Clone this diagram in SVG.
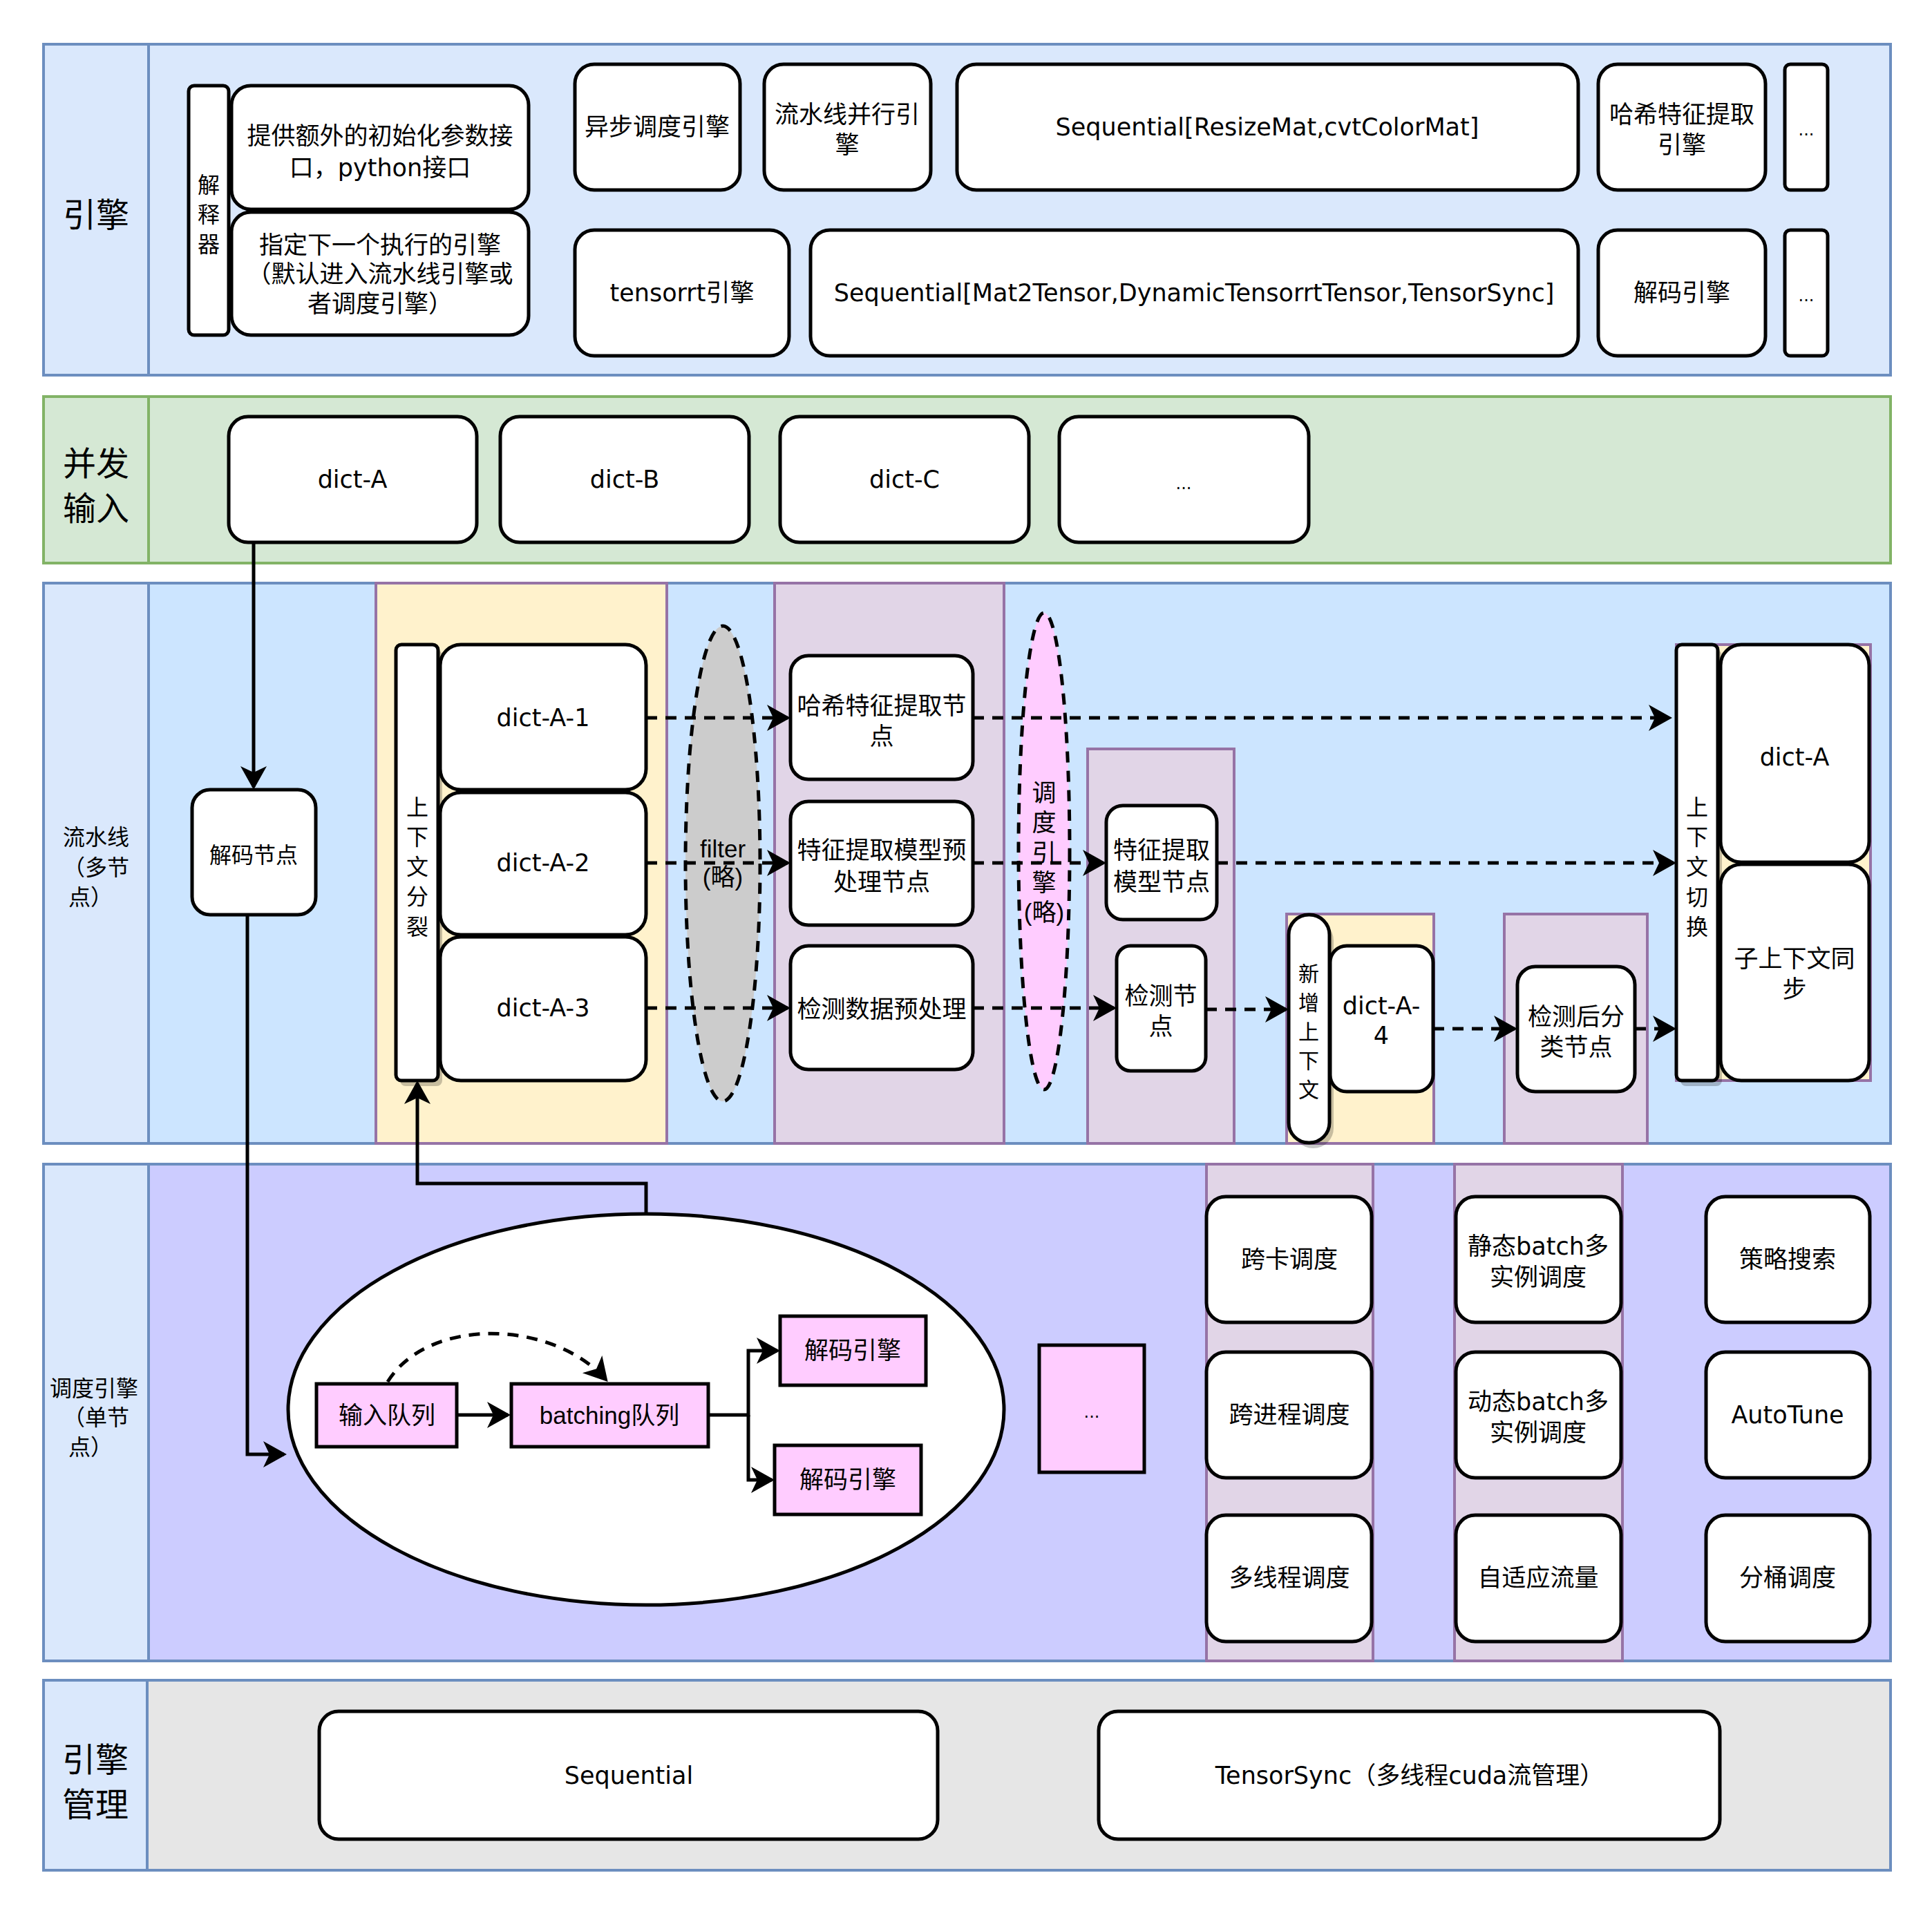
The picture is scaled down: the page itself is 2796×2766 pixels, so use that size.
<svg xmlns="http://www.w3.org/2000/svg" width="2796" height="2766" viewBox="0 0 2796 2766">
<defs>
<style>
text, tspan { dominant-baseline: central; }
.t { font-family: "DejaVu Sans", "Noto Sans CJK SC", sans-serif; font-size: 35px; text-anchor: middle; fill: #000; }
.h { font-family: "Liberation Sans", "Noto Sans CJK SC", sans-serif; font-size: 35px; text-anchor: middle; fill: #000; }
.lbl { font-family: "Noto Sans CJK SC", sans-serif; font-size: 48px; text-anchor: middle; fill: #000; }
.lbs { font-family: "Noto Sans CJK SC", sans-serif; font-size: 32px; text-anchor: middle; fill: #000; }
.sm { font-family: "DejaVu Sans", sans-serif; font-size: 24px; text-anchor: middle; fill: #000; }
.laneB { fill: #dae8fc; stroke: #6c8ebf; stroke-width: 4; }
.laneP { fill: #cce5ff; stroke: #6c8ebf; stroke-width: 4; }
.laneG { fill: #d5e8d4; stroke: #82b366; stroke-width: 4; }
.laneS { fill: #ccccff; stroke: #6c8ebf; stroke-width: 4; }
.laneM { fill: #e6e6e6; stroke: #6c8ebf; stroke-width: 4; }
.cy { fill: #fff2cc; stroke: #9673a6; stroke-width: 4; }
.cp { fill: #e1d5e7; stroke: #9673a6; stroke-width: 4; }
.n { fill: #fff; stroke: #000; stroke-width: 5; }
.pk { fill: #ffccff; stroke: #000; stroke-width: 5; }
.sh { fill: #000; opacity: 0.22; }
.ln { fill: none; stroke: #000; stroke-width: 5; }
.ds { fill: none; stroke: #000; stroke-width: 5; stroke-dasharray: 16 12; }
</style>
<marker id="arr" markerUnits="userSpaceOnUse" markerWidth="36" markerHeight="40" viewBox="0 0 36 40" refX="30" refY="19" orient="auto">
<path d="M0,0 L34,19 L0,38 L9,19 Z" fill="#000"/>
</marker>
</defs>

<g id="lanes">
<rect class="laneB" x="215" y="64" width="2521" height="479"/>
<rect class="laneB" x="63" y="64" width="152" height="479"/>
<text class="lbl" x="139" y="307">引擎</text>
<rect class="laneG" x="215" y="574" width="2521" height="241"/>
<rect class="laneG" x="63" y="574" width="152" height="241"/>
<text class="lbl"><tspan x="139" y="667">并发</tspan><tspan x="139" y="732">输入</tspan></text>
<rect class="laneP" x="215" y="844" width="2521" height="811"/>
<rect class="laneB" x="63" y="844" width="152" height="811"/>
<text class="lbs"><tspan x="139" y="1209">流水线</tspan><tspan x="139" y="1253">（多节</tspan><tspan x="131" y="1296">点）</tspan></text>
<rect class="laneS" x="215" y="1685" width="2521" height="719"/>
<rect class="laneB" x="63" y="1685" width="152" height="719"/>
<text class="lbs"><tspan x="136" y="2007">调度引擎</tspan><tspan x="139" y="2049">（单节</tspan><tspan x="131" y="2092">点）</tspan></text>
<rect class="laneM" x="213" y="2432" width="2523" height="275"/>
<rect class="laneB" x="63" y="2432" width="150" height="275"/>
<text class="lbl"><tspan x="138" y="2543">引擎</tspan><tspan x="138" y="2608">管理</tspan></text>
</g>

<g id="containers">
<rect class="cy" x="544" y="844" width="421" height="811"/>
<rect class="cp" x="1121" y="844" width="332" height="811"/>
<rect class="cp" x="1574" y="1084" width="212" height="571"/>
<rect class="cy" x="1862" y="1323" width="213" height="332"/>
<rect class="cp" x="2177" y="1323" width="207" height="332"/>
<rect class="cy" x="2426" y="933" width="281" height="631"/>
<rect class="cp" x="1746" y="1685" width="241" height="719"/>
<rect class="cp" x="2105" y="1685" width="243" height="719"/>
</g>

<!-- engine lane -->
<g id="interp"><rect class="n" x="273" y="124" width="58" height="361" rx="8"/>
<text class="lbs"><tspan x="302" y="265">解</tspan><tspan x="302" y="308">释</tspan><tspan x="302" y="351">器</tspan></text></g>
<g id="init-param"><rect class="n" x="335" y="124" width="430" height="179" rx="28"/>
<text class="t"><tspan x="550" y="197">提供额外的初始化参数接</tspan><tspan x="550" y="243">口，python接口</tspan></text></g>
<g id="next-engine"><rect class="n" x="335" y="307" width="430" height="178" rx="28"/>
<text class="t"><tspan x="550" y="355">指定下一个执行的引擎</tspan><tspan x="550" y="397">（默认进入流水线引擎或</tspan><tspan x="550" y="440">者调度引擎）</tspan></text></g>
<g id="async-engine"><rect class="n" x="832" y="93" width="239" height="182" rx="28"/>
<text class="t" x="951" y="184">异步调度引擎</text></g>
<g id="pipe-engine"><rect class="n" x="1106" y="93" width="241" height="182" rx="28"/>
<text class="t"><tspan x="1226" y="166">流水线并行引</tspan><tspan x="1226" y="210">擎</tspan></text></g>
<g id="seq-resize"><rect class="n" x="1385" y="93" width="899" height="182" rx="28"/>
<text class="t" x="1834" y="184">Sequential[ResizeMat,cvtColorMat]</text></g>
<g id="hash-engine"><rect class="n" x="2313" y="93" width="242" height="182" rx="28"/>
<text class="t"><tspan x="2434" y="166">哈希特征提取</tspan><tspan x="2434" y="210">引擎</tspan></text></g>
<g id="more-1"><rect class="n" x="2583" y="93" width="62" height="182" rx="8"/>
<text class="sm" x="2614" y="188">...</text></g>
<g id="tensorrt-engine"><rect class="n" x="832" y="333" width="310" height="182" rx="28"/>
<text class="t" x="987" y="424">tensorrt引擎</text></g>
<g id="seq-mat"><rect class="n" x="1173" y="333" width="1111" height="182" rx="28"/>
<text class="t" x="1728" y="424">Sequential[Mat2Tensor,DynamicTensorrtTensor,TensorSync]</text></g>
<g id="decode-engine"><rect class="n" x="2313" y="333" width="242" height="182" rx="28"/>
<text class="t" x="2434" y="424">解码引擎</text></g>
<g id="more-2"><rect class="n" x="2583" y="333" width="62" height="182" rx="8"/>
<text class="sm" x="2614" y="428">...</text></g>

<!-- concurrent input -->
<g id="dict-a"><rect class="n" x="331" y="603" width="359" height="182" rx="28"/>
<text class="t" x="510" y="694">dict-A</text></g>
<g id="dict-b"><rect class="n" x="724" y="603" width="360" height="182" rx="28"/>
<text class="t" x="904" y="694">dict-B</text></g>
<g id="dict-c"><rect class="n" x="1129" y="603" width="360" height="182" rx="28"/>
<text class="t" x="1309" y="694">dict-C</text></g>
<g id="more-3"><rect class="n" x="1533" y="603" width="361" height="182" rx="28"/>
<text class="sm" x="1713" y="700">...</text></g>

<!-- pipeline -->
<g id="filter"><ellipse cx="1046" cy="1250" rx="54" ry="344" fill="#cccccc" stroke="#000" stroke-width="5" stroke-dasharray="16 12"/>
<text class="h"><tspan x="1046" y="1228">filter</tspan><tspan x="1046" y="1269">(略)</tspan></text></g>
<g id="sched-skip"><ellipse cx="1511" cy="1232" rx="37" ry="345" fill="#ffccff" stroke="#000" stroke-width="5" stroke-dasharray="16 12"/>
<text class="h"><tspan x="1511" y="1147">调</tspan><tspan x="1511" y="1190">度</tspan><tspan x="1511" y="1234">引</tspan><tspan x="1511" y="1277">擎</tspan><tspan x="1511" y="1320">(略)</tspan></text></g>
<g id="decode-node"><rect class="n" x="278" y="1143" width="179" height="181" rx="26"/>
<text class="lbs" x="367" y="1235">解码节点</text></g>
<g id="ctx-split"><rect class="sh" x="579" y="941" width="61" height="631" rx="8"/><rect class="n" x="573" y="933" width="61" height="631" rx="8"/>
<text class="lbs"><tspan x="604" y="1166">上</tspan><tspan x="604" y="1209">下</tspan><tspan x="604" y="1252">文</tspan><tspan x="604" y="1295">分</tspan><tspan x="604" y="1339">裂</tspan></text></g>
<g id="dict-a-1"><rect class="n" x="637" y="933" width="298" height="210" rx="30"/>
<text class="t" x="786" y="1039">dict-A-1</text></g>
<g id="dict-a-2"><rect class="n" x="637" y="1147" width="298" height="206" rx="30"/>
<text class="t" x="786" y="1249">dict-A-2</text></g>
<g id="dict-a-3"><rect class="n" x="637" y="1356" width="298" height="208" rx="30"/>
<text class="t" x="786" y="1459">dict-A-3</text></g>
<g id="hash-node"><rect class="n" x="1144" y="949" width="264" height="179" rx="26"/>
<text class="t"><tspan x="1276" y="1022">哈希特征提取节</tspan><tspan x="1276" y="1066">点</tspan></text></g>
<g id="feat-pre"><rect class="n" x="1144" y="1160" width="264" height="179" rx="26"/>
<text class="t"><tspan x="1276" y="1231">特征提取模型预</tspan><tspan x="1276" y="1277">处理节点</tspan></text></g>
<g id="det-pre"><rect class="n" x="1144" y="1369" width="264" height="179" rx="26"/>
<text class="t" x="1276" y="1461">检测数据预处理</text></g>
<g id="feat-model"><rect class="n" x="1601" y="1166" width="160" height="165" rx="24"/>
<text class="t"><tspan x="1681" y="1231">特征提取</tspan><tspan x="1681" y="1277">模型节点</tspan></text></g>
<g id="det-node"><rect class="n" x="1616" y="1369" width="129" height="181" rx="20"/>
<text class="t"><tspan x="1680" y="1442">检测节</tspan><tspan x="1680" y="1486">点</tspan></text></g>
<g id="new-ctx"><rect class="sh" x="1871" y="1332" width="59" height="330" rx="29"/><rect class="n" x="1865" y="1324" width="59" height="330" rx="29"/>
<text class="lbs" style="font-size:30px"><tspan x="1894" y="1407">新</tspan><tspan x="1894" y="1449">增</tspan><tspan x="1894" y="1491">上</tspan><tspan x="1894" y="1533">下</tspan><tspan x="1894" y="1575">文</tspan></text></g>
<g id="dict-a-4"><rect class="n" x="1925" y="1369" width="149" height="211" rx="24"/>
<text class="t"><tspan x="1999" y="1456">dict-A-</tspan><tspan x="1999" y="1499">4</tspan></text></g>
<g id="post-cls"><rect class="n" x="2196" y="1399" width="170" height="181" rx="26"/>
<text class="t"><tspan x="2281" y="1472">检测后分</tspan><tspan x="2281" y="1516">类节点</tspan></text></g>
<g id="ctx-switch"><rect class="sh" x="2432" y="941" width="60" height="631" rx="8"/><rect class="n" x="2426" y="933" width="60" height="631" rx="8"/>
<text class="lbs"><tspan x="2456" y="1166">上</tspan><tspan x="2456" y="1209">下</tspan><tspan x="2456" y="1252">文</tspan><tspan x="2456" y="1296">切</tspan><tspan x="2456" y="1339">换</tspan></text></g>
<g id="dict-a-out"><rect class="n" x="2490" y="933" width="215" height="315" rx="30"/>
<text class="t" x="2597" y="1096">dict-A</text></g>
<g id="sub-sync"><rect class="n" x="2490" y="1251" width="215" height="313" rx="30"/>
<text class="t"><tspan x="2597" y="1388">子上下文同</tspan><tspan x="2597" y="1432">步</tspan></text></g>

<!-- scheduling -->
<g id="sched-engine"><ellipse cx="935" cy="2040" rx="518" ry="283" fill="#fff" stroke="#000" stroke-width="5"/></g>
<g id="input-queue"><rect class="pk" x="458" y="2003" width="203" height="91"/>
<text class="h" x="560" y="2048">输入队列</text></g>
<g id="batching-queue"><rect class="pk" x="740" y="2003" width="285" height="91"/>
<text class="h" x="882" y="2048">batching队列</text></g>
<g id="decode-1"><rect class="pk" x="1129" y="1905" width="211" height="100"/>
<text class="t" x="1234" y="1955">解码引擎</text></g>
<g id="decode-2"><rect class="pk" x="1121" y="2092" width="212" height="100"/>
<text class="t" x="1227" y="2142">解码引擎</text></g>
<g id="more-4"><rect class="pk" x="1504" y="1947" width="152" height="184"/>
<text class="sm" x="1580" y="2044">...</text></g>
<g id="cross-card"><rect class="n" x="1746" y="1732" width="239" height="182" rx="28"/>
<text class="t" x="1866" y="1823">跨卡调度</text></g>
<g id="cross-proc"><rect class="n" x="1746" y="1957" width="239" height="182" rx="28"/>
<text class="t" x="1866" y="2048">跨进程调度</text></g>
<g id="multi-thread"><rect class="n" x="1746" y="2193" width="239" height="183" rx="28"/>
<text class="t" x="1866" y="2284">多线程调度</text></g>
<g id="static-batch"><rect class="n" x="2107" y="1732" width="239" height="182" rx="28"/>
<text class="t"><tspan x="2226" y="1804">静态batch多</tspan><tspan x="2226" y="1849">实例调度</tspan></text></g>
<g id="dynamic-batch"><rect class="n" x="2107" y="1957" width="239" height="182" rx="28"/>
<text class="t"><tspan x="2226" y="2029">动态batch多</tspan><tspan x="2226" y="2074">实例调度</tspan></text></g>
<g id="adaptive-flow"><rect class="n" x="2107" y="2193" width="239" height="183" rx="28"/>
<text class="t" x="2226" y="2284">自适应流量</text></g>
<g id="strategy-search"><rect class="n" x="2469" y="1732" width="237" height="182" rx="28"/>
<text class="t" x="2587" y="1823">策略搜索</text></g>
<g id="autotune"><rect class="n" x="2469" y="1957" width="237" height="182" rx="28"/>
<text class="t" x="2587" y="2048">AutoTune</text></g>
<g id="bucket"><rect class="n" x="2469" y="2193" width="237" height="183" rx="28"/>
<text class="t" x="2587" y="2284">分桶调度</text></g>

<!-- engine management -->
<g id="sequential"><rect class="n" x="462" y="2477" width="895" height="185" rx="28"/>
<text class="t" x="910" y="2570">Sequential</text></g>
<g id="tensorsync"><rect class="n" x="1590" y="2477" width="899" height="185" rx="28"/>
<text class="t" x="2040" y="2570">TensorSync（多线程cuda流管理）</text></g>

<g id="connectors">
<path class="ln" d="M367,785 V1139" marker-end="url(#arr)"/>
<path class="ln" d="M358,1324 V2105 H411" marker-end="url(#arr)"/>
<path class="ln" d="M935,1757 V1713 H604 V1568" marker-end="url(#arr)"/>
<path class="ln" d="M661,2048 H735" marker-end="url(#arr)"/>
<path class="ds" d="M561,2000 C620,1905 800,1910 877,1997" marker-end="url(#arr)"/>
<path class="ln" d="M1025,2048 H1083 V1955 H1125" marker-end="url(#arr)"/>
<path class="ln" d="M1083,2048 V2142 H1117" marker-end="url(#arr)"/>
<path class="ds" d="M935,1039 H1140" marker-end="url(#arr)"/>
<path class="ds" d="M1408,1039 H2416" marker-end="url(#arr)"/>
<path class="ds" d="M935,1249 H1140" marker-end="url(#arr)"/>
<path class="ds" d="M1408,1249 H1597" marker-end="url(#arr)"/>
<path class="ds" d="M1761,1249 H2422" marker-end="url(#arr)"/>
<path class="ds" d="M935,1459 H1140" marker-end="url(#arr)"/>
<path class="ds" d="M1408,1459 H1612" marker-end="url(#arr)"/>
<path class="ds" d="M1745,1461 H1861" marker-end="url(#arr)"/>
<path class="ds" d="M2074,1489 H2192" marker-end="url(#arr)"/>
<path class="ds" d="M2366,1489 H2422" marker-end="url(#arr)"/>
</g>
</svg>
